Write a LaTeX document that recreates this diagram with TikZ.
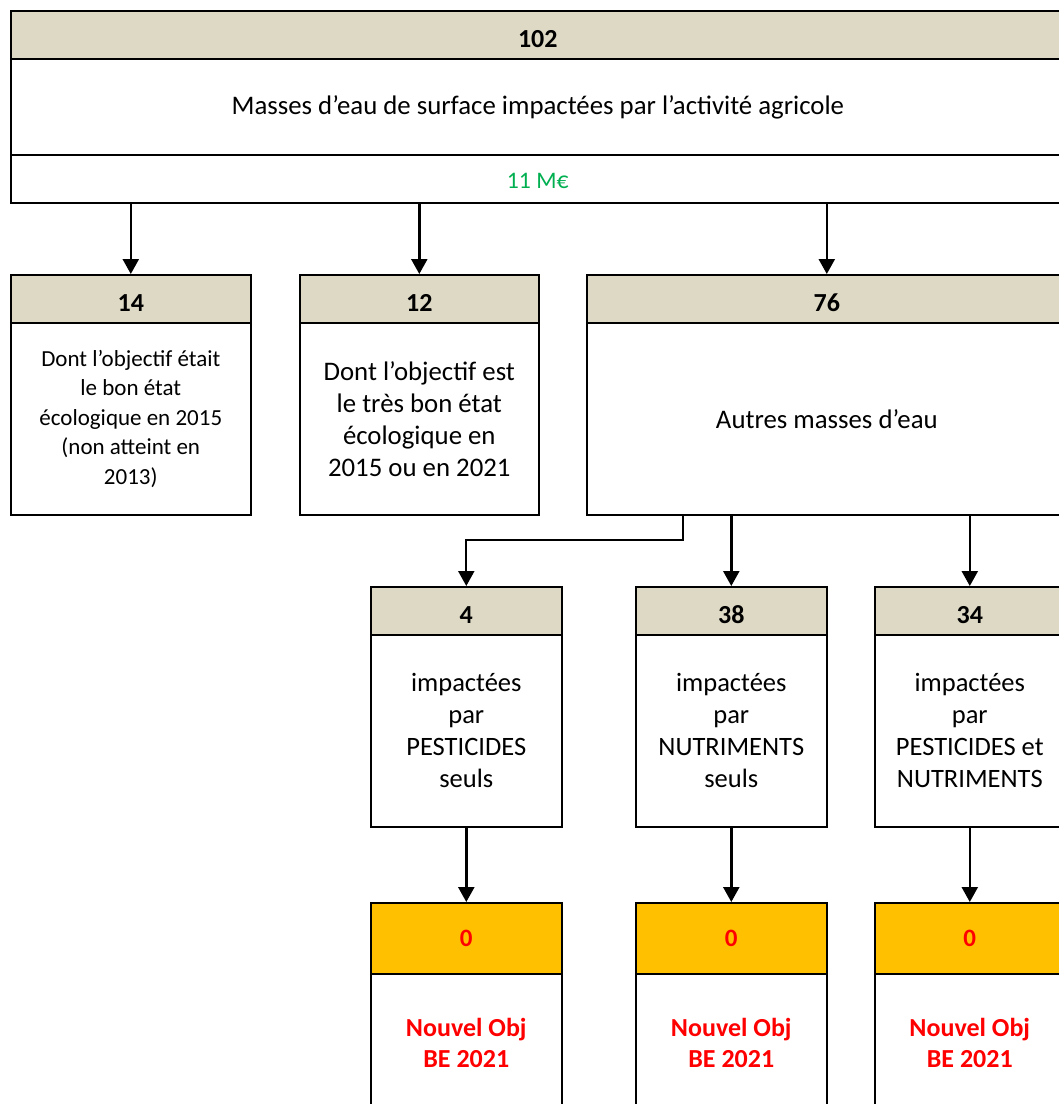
\documentclass[tikz,border=0pt]{standalone}
\usepackage{fontspec}
\setmainfont{Carlito}
\usetikzlibrary{arrows.meta,calc}
\definecolor{hdrtan}{HTML}{DDD9C4}
\definecolor{hdrorange}{HTML}{FFC000}
\definecolor{moneygreen}{HTML}{00B050}
\definecolor{objred}{HTML}{FF0000}
\tikzset{
  boxbase/.style={draw=black, line width=1.6pt, rectangle, inner sep=0pt, anchor=north west, align=center},
  hdrbox/.style={boxbase, fill=hdrtan, text height=26pt, text depth=0pt, font=\bfseries\fontsize{26}{30}\selectfont},
  orangebox/.style={boxbase, fill=hdrorange, text=objred, font=\bfseries\fontsize{25}{29}\selectfont},
  bodybox/.style={boxbase, fill=white, font=\fontsize{26.8}{32}\selectfont},
  smallbody/.style={boxbase, fill=white, font=\fontsize{23}{29.5}\selectfont},
  midbody/.style={boxbase, fill=white, font=\fontsize{26.5}{32}\selectfont},
  redbody/.style={boxbase, fill=white, text=objred, font=\bfseries\fontsize{26}{31}\selectfont},
  arr/.style={draw=black, line width=2.4pt, -{Triangle[width=16pt,length=15pt]}},
}
\begin{document}
\begin{tikzpicture}[x=1pt,y=-1pt]
\useasboundingbox (0,0) rectangle (1059,1104);
\clip (0,0) rectangle (1059,1104);
% top box
\node[hdrbox, minimum width=1054pt, minimum height=48pt] (h102) at (10,10) {102};
\node[bodybox, text height=20pt, text depth=4pt, minimum width=1054pt, minimum height=96pt] (b102) at (10,58) {Masses d’eau de surface impactées par l’activité agricole};
\node[boxbase, fill=white, text=moneygreen, text height=20pt, text depth=0pt, font=\fontsize{23.7}{28}\selectfont, minimum width=1054pt, minimum height=48pt] (m102) at (10,154) {11 M€};
% second tier
\node[hdrbox, minimum width=240pt, minimum height=48pt] (h14) at (10,274) {14};
\node[smallbody, minimum width=240pt, minimum height=192pt] (b14) at (10,322) {Dont l’objectif était\\le bon état\\écologique en 2015\\(non atteint en\\2013)};
\node[hdrbox, minimum width=239pt, minimum height=48pt] (h12) at (299,274) {12};
\node[bodybox, minimum width=239pt, minimum height=192pt] (b12) at (299,322) {Dont l’objectif est\\le très bon état\\écologique en\\2015 ou en 2021};
\node[hdrbox, minimum width=480pt, minimum height=48pt] (h76) at (586,274) {76};
\node[bodybox, minimum width=480pt, minimum height=192pt] (b76) at (586,322) {Autres masses d’eau};
% third tier
\node[hdrbox, minimum width=191pt, minimum height=48pt] (h4) at (370,586) {4};
\node[midbody, minimum width=191pt, minimum height=192pt] (b4) at (370,634) {impactées\\par\\PESTICIDES\\seuls};
\node[hdrbox, minimum width=191pt, minimum height=48pt] (h38) at (635,586) {38};
\node[midbody, minimum width=191pt, minimum height=192pt] (b38) at (635,634) {impactées\\par\\NUTRIMENTS\\seuls};
\node[hdrbox, minimum width=190pt, minimum height=48pt] (h34) at (874,586) {34};
\node[midbody, minimum width=190pt, minimum height=192pt] (b34) at (874,634) {impactées\\par\\PESTICIDES et\\NUTRIMENTS};
% fourth tier
\node[orangebox, minimum width=191pt, minimum height=71pt] (o4) at (370,902) {0};
\node[redbody, minimum width=191pt, minimum height=139pt] (r4) at (370,973) {Nouvel Obj\\BE 2021};
\node[orangebox, minimum width=191pt, minimum height=71pt] (o38) at (635,902) {0};
\node[redbody, minimum width=191pt, minimum height=139pt] (r38) at (635,973) {Nouvel Obj\\BE 2021};
\node[orangebox, minimum width=190pt, minimum height=71pt] (o34) at (874,902) {0};
\node[redbody, minimum width=190pt, minimum height=139pt] (r34) at (874,973) {Nouvel Obj\\BE 2021};
% connectors
\draw[arr] (m102.south -| h14.north) -- (h14.north);
\draw[arr] (m102.south -| h12.north) -- (h12.north);
\draw[arr] (m102.south -| h76.north) -- (h76.north);
\draw[arr, line width=2pt] ($(b76.south west)+(97,0)$) -- ++(0,24) -| (h4.north);
\draw[arr] (b76.south -| h38.north) -- (h38.north);
\draw[arr] (b76.south -| h34.north) -- (h34.north);
\draw[arr] (b4.south) -- (o4.north);
\draw[arr] (b38.south) -- (o38.north);
\draw[arr] (b34.south) -- (o34.north);
\end{tikzpicture}
\end{document}
